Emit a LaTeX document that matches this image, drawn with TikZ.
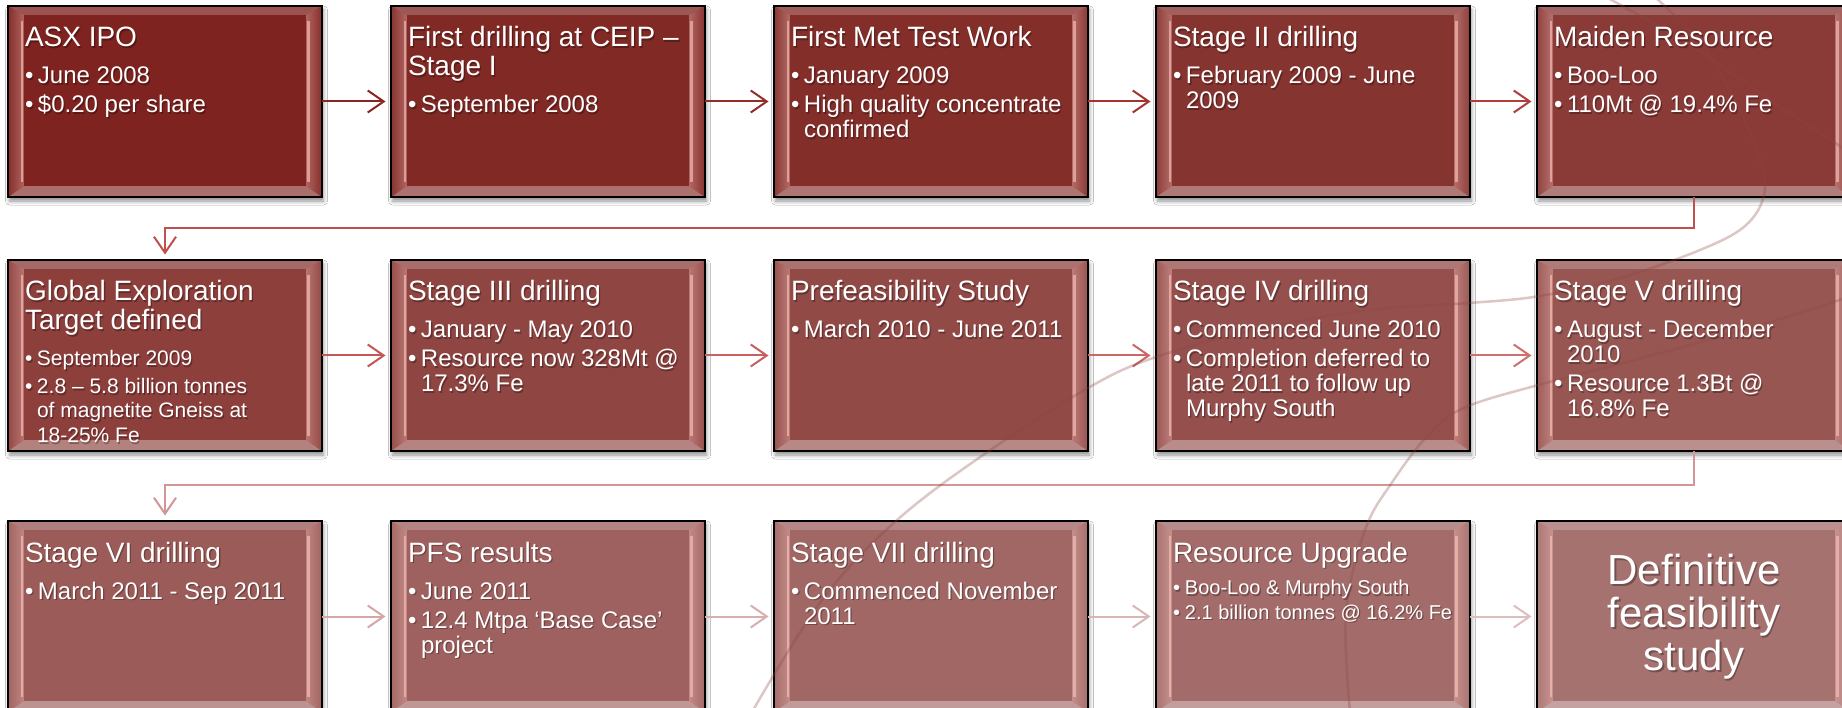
\documentclass[tikz,border=0pt]{standalone}
\usepackage{fontspec}
\setmainfont{Liberation Sans}
\usetikzlibrary{arrows.meta,shadows.blur}

\definecolor{boxA}{RGB}{126,35,31}
\definecolor{boxB}{RGB}{166,114,112}
\definecolor{pinkhl}{RGB}{252,196,190}
\definecolor{swoosh}{RGB}{140,70,64}
\definecolor{ar1}{RGB}{138,36,32}
\definecolor{ar2}{RGB}{150,44,40}
\definecolor{ar3}{RGB}{163,52,48}
\definecolor{ar4}{RGB}{176,62,58}
\definecolor{cn1}{RGB}{192,80,77}
\definecolor{ar5}{RGB}{196,88,86}
\definecolor{ar6}{RGB}{199,96,94}
\definecolor{ar7}{RGB}{202,104,102}
\definecolor{ar8}{RGB}{205,112,110}
\definecolor{cn2}{RGB}{210,150,150}
\definecolor{ar9}{RGB}{212,166,166}
\definecolor{ar10}{RGB}{215,175,175}
\definecolor{ar11}{RGB}{217,182,182}
\definecolor{ar12}{RGB}{220,190,190}

\tikzset{
  boxnode/.style={draw=black, line width=1.6pt, minimum width=314pt, minimum height=191pt,
    inner sep=0pt, outer sep=0pt, anchor=north west,
    blur shadow={shadow xshift=1.5pt, shadow yshift=-4pt, shadow blur radius=4pt, shadow opacity=45}},
  flow/.style={line width=2pt, -{Straight Barb[length=16pt,width=22pt]}, shorten >=5.5pt},
  swooshline/.style={draw=swoosh, line width=2.5pt, opacity=0.3},
  txt/.style={anchor=base west, inner sep=0pt, outer sep=0pt, text=white},
  txtsh/.style={anchor=base west, inner sep=0pt, outer sep=0pt, text=black, opacity=0.3},
}

% bevelled box: #1 x, #2 y, #3 percent of light colour, #4 name
\newcommand\bev[4]{%
  \colorlet{mc}{boxB!#3!boxA}%
  \node[boxnode, fill=mc!78!white] (#4) at (#1,#2) {};
  \fill[mc!78!white] (#1,#2) -- (#1+314,#2) -- (#1+298,#2+9) -- (#1+16,#2+9) -- cycle;
  \fill[mc!66!white] (#1,#2+191) -- (#1+314,#2+191) -- (#1+298,#2+180) -- (#1+16,#2+180) -- cycle;
  \path[left color=mc!95!white, right color=mc!60!pinkhl] (#1,#2) -- (#1+16,#2+9) -- (#1+16,#2+180) -- (#1,#2+191) -- cycle;
  \path[left color=mc!60!pinkhl, right color=mc!95!white] (#1+314,#2) -- (#1+298,#2+9) -- (#1+298,#2+180) -- (#1+314,#2+191) -- cycle;
  \fill[mc] (#1+16,#2+9) rectangle (#1+298,#2+180);
  \draw[mc!25!pinkhl, line width=2.5pt] (#1+14,#2+15) -- (#1+14,#2+176);
  \draw[mc!25!pinkhl, line width=2.5pt] (#1+300.5,#2+15) -- (#1+300.5,#2+176);
  \draw[black, line width=1.6pt] (#4.north west) rectangle (#4.south east);
}

\newcommand\ttl[1]{{\fontsize{28}{28.5}\selectfont #1\par}\vspace{8pt}}
\newcommand\bl[1]{\par\vspace{4pt}{\fontsize{24}{25}\selectfont\hangindent=13pt\hangafter=1\noindent\makebox[13pt][l]{\textbullet}#1\par}}
\newcommand\bls[1]{\par\vspace{3.5pt}{\fontsize{21}{24.5}\selectfont\hangindent=12pt\hangafter=1\noindent\makebox[12pt][l]{\textbullet}#1\par}}
\newcommand\blr[1]{\par\vspace{3.5pt}{\fontsize{20}{21}\selectfont\hangindent=12pt\hangafter=1\noindent\makebox[12pt][l]{\textbullet}#1\par}}

% text of a box: #1 id, #2 x, #3 y, #4 content
\newcommand\btxt[4]{%
  \node[txtsh] (s#1) at (#2+18.3,#3+42.6) {\parbox[t]{300pt}{\rightskip=0pt plus 1fil #4}};
  \node[txt] (t#1) at (#2+17,#3+41) {\parbox[t]{300pt}{\rightskip=0pt plus 1fil #4}};
}

\begin{document}
\begin{tikzpicture}[x=1pt,y=-1pt]
\useasboundingbox (0,0) rectangle (1842,708);
\fill[white] (0,0) rectangle (1842,708);
\clip (0,0) rectangle (1842,708);

% boxes
\bev{8}{6}{0}{b1}
\bev{391}{6}{7}{b2}
\bev{774}{6}{14}{b3}
\bev{1156}{6}{21}{b4}
\bev{1537}{6}{29}{b5}
\bev{8}{260}{36}{b6}
\bev{391}{260}{43}{b7}
\bev{774}{260}{50}{b8}
\bev{1156}{260}{57}{b9}
\bev{1537}{260}{64}{b10}
\bev{8}{521}{71}{b11}
\bev{391}{521}{79}{b12}
\bev{774}{521}{86}{b13}
\bev{1156}{521}{93}{b14}
\bev{1537}{521}{100}{b15}

% connectors
\draw[flow, draw=ar1] (b1.east) -- (b2.west);
\draw[flow, draw=ar2] (b2.east) -- (b3.west);
\draw[flow, draw=ar3] (b3.east) -- (b4.west);
\draw[flow, draw=ar4] (b4.east) -- (b5.west);
\draw[flow, draw=cn1] (b5.south) -- ++(0,31) -| (b6.north);
\draw[flow, draw=ar5] (b6.east) -- (b7.west);
\draw[flow, draw=ar6] (b7.east) -- (b8.west);
\draw[flow, draw=ar7] (b8.east) -- (b9.west);
\draw[flow, draw=ar8] (b9.east) -- (b10.west);
\draw[flow, draw=cn2] (b10.south) -- ++(0,34) -| (b11.north);
\draw[flow, draw=ar9] (b11.east) -- (b12.west);
\draw[flow, draw=ar10] (b12.east) -- (b13.west);
\draw[flow, draw=ar11] (b13.east) -- (b14.west);
\draw[flow, draw=ar12] (b14.east) -- (b15.west);

% decorative swooshes
\draw[swooshline] plot[smooth, tension=0.6] coordinates {(1606,-3) (1690,45) (1770,100) (1846,150)};
\draw[swooshline] plot[smooth, tension=0.6] coordinates {(1655,-3) (1700,43) (1735,100) (1760,160) (1764,195) (1745,226) (1700,250) (1620,278) (1540,296) (1469,303) (1400,307) (1340,314) (1250,331) (1153,358) (1088,388) (986,453) (896,521) (822,600) (752,712)};
\draw[swooshline] plot[smooth, tension=0.6] coordinates {(1350,712) (1346,613) (1365,530) (1393,481) (1430,433) (1466,407) (1542,384) (1646,357) (1760,325) (1846,298)};

% texts
\btxt{1}{8}{6}{\ttl{ASX IPO}\bl{June 2008}\bl{\$0.20 per share}}
\btxt{2}{391}{6}{\ttl{First drilling at CEIP –\\Stage I}\bl{September 2008}}
\btxt{3}{774}{6}{\ttl{First Met Test Work}\bl{January 2009}\bl{High quality concentrate\\confirmed}}
\btxt{4}{1156}{6}{\ttl{Stage II drilling}\bl{February 2009 - June\\2009}}
\btxt{5}{1537}{6}{\ttl{Maiden Resource}\bl{Boo-Loo}\bl{110Mt @ 19.4\% Fe}}
\btxt{6}{8}{260}{\ttl{Global Exploration\\Target defined}\bls{September 2009}\bls{2.8 – 5.8 billion tonnes\\of magnetite Gneiss at\\18-25\% Fe}}
\btxt{7}{391}{260}{\ttl{Stage III drilling}\bl{January - May 2010}\bl{Resource now 328Mt @\\17.3\% Fe}}
\btxt{8}{774}{260}{\ttl{Prefeasibility Study}\bl{March 2010 - June 2011}}
\btxt{9}{1156}{260}{\ttl{Stage IV drilling}\bl{Commenced June 2010}\bl{Completion deferred to\\late 2011 to follow up\\Murphy South}}
\btxt{10}{1537}{260}{\ttl{Stage V drilling}\bl{August - December\\2010}\bl{Resource 1.3Bt @\\16.8\% Fe}}
\btxt{11}{8}{521}{\ttl{Stage VI drilling}\bl{March 2011 - Sep 2011}}
\btxt{12}{391}{521}{\ttl{PFS results}\bl{June 2011}\bl{12.4 Mtpa ‘Base Case’\\project}}
\btxt{13}{774}{521}{\ttl{Stage VII drilling}\bl{Commenced November\\2011}}
\btxt{14}{1156}{521}{\ttl{Resource Upgrade}\blr{Boo-Loo \& Murphy South}\blr{2.1 billion tonnes @ 16.2\% Fe}}
\node[text=black, opacity=0.3, align=center, font=\fontsize{42}{43}\selectfont, inner sep=0pt] (s15) at ($(b15.center)+(1.5,2)$) {Definitive\\feasibility\\study};
\node[text=white, align=center, font=\fontsize{42}{43}\selectfont, inner sep=0pt] (t15) at (b15.center) {Definitive\\feasibility\\study};
\end{tikzpicture}
\end{document}
